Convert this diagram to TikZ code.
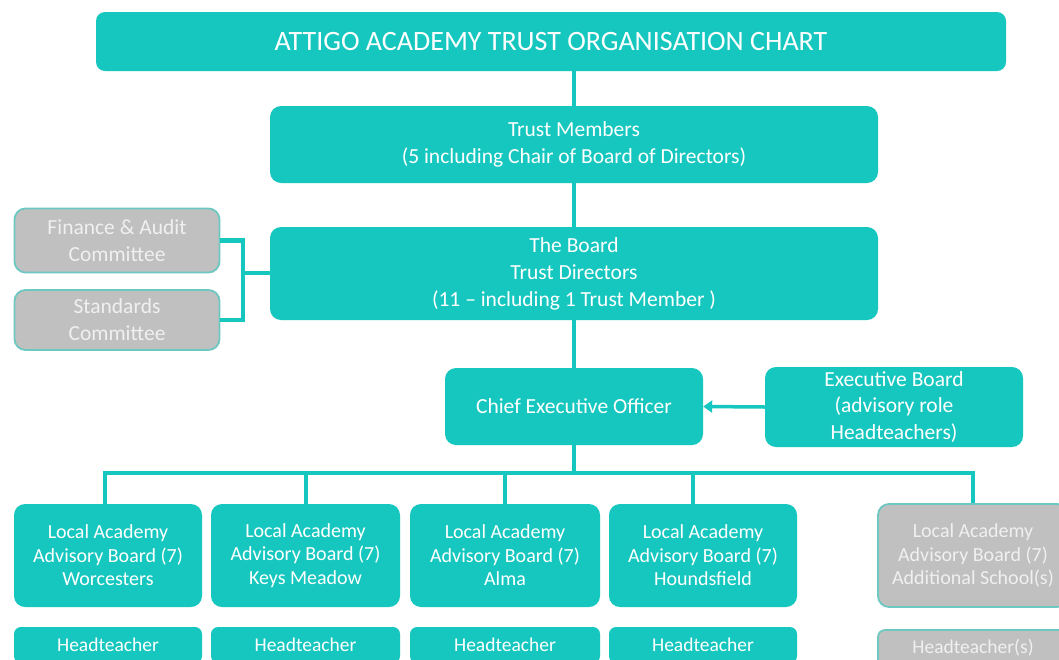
\documentclass[tikz,border=0pt]{standalone}
\usepackage{fontspec}
\setmainfont{Carlito}
\usetikzlibrary{arrows.meta}
\definecolor{teal1}{RGB}{22,199,191}
\definecolor{greybox}{RGB}{192,192,192}
\definecolor{greyedge}{RGB}{110,200,194}
\definecolor{greytext}{RGB}{240,240,240}
\begin{document}
\begin{tikzpicture}[x=1pt,y=-1pt,
  tbox/.style={draw=none,fill=teal1,rounded corners=11pt,text=white,align=center,inner sep=0pt},
  gbox/.style={draw=greyedge,line width=1.8pt,fill=greybox,rounded corners=11pt,text=greytext,align=center,inner sep=0pt},
  big/.style={font=\fontsize{21.5}{27}\selectfont},
  lab/.style={font=\fontsize{20}{23.5}\selectfont},
  head/.style={font=\fontsize{19.5}{22}\selectfont},
  link/.style={draw=teal1,line width=4.5pt},
]
\useasboundingbox (0,0) rectangle (1059,659);
\clip (0,0) rectangle (1059,659);
\fill[white] (0,0) rectangle (1059,659);

% top of the chart
\node[tbox,minimum width=910pt,minimum height=59pt,rounded corners=9pt,
      font=\fontsize{28}{30}\selectfont] (title) at (551,41.5) {ATTIGO ACADEMY TRUST ORGANISATION CHART};
\node[tbox,big,minimum width=608pt,minimum height=77pt] (members) at (574,144.5)
  {Trust Members\\(5 including Chair of Board of Directors)};
\node[tbox,big,minimum width=608pt,minimum height=93pt] (board) at (574,273.5)
  {The Board\\Trust Directors\\(11 -- including 1 Trust Member )};

% committees
\node[gbox,big,minimum width=205pt,minimum height=64pt] (finance) at (117,240.5)
  {Finance \& Audit\\Committee};
\node[gbox,big,minimum width=205pt,minimum height=60pt] (standards) at (117,320)
  {Standards\\Committee};

% executive level
\node[tbox,big,minimum width=258pt,minimum height=77pt] (ceo) at (574,406.5)
  {Chief Executive Officer};
\node[tbox,big,minimum width=258pt,minimum height=80pt,font=\fontsize{21.5}{26.5}\selectfont] (exec) at (894,407)
  {Executive Board\\(advisory role\\Headteachers)};

% local academy advisory boards
\node[tbox,lab,minimum width=188pt,minimum height=103pt] (wor) at (108,555.5)
  {Local Academy\\Advisory Board (7)\\Worcesters};
\node[tbox,lab,minimum width=189pt,minimum height=103pt] (keys) at (305.5,555.5)
  {Local Academy\\Advisory Board (7)\\Keys Meadow};
\node[tbox,lab,minimum width=190pt,minimum height=103pt] (alma) at (505,555.5)
  {Local Academy\\Advisory Board (7)\\Alma};
\node[tbox,lab,minimum width=188pt,minimum height=103pt] (hound) at (703,555.5)
  {Local Academy\\Advisory Board (7)\\Houndsfield};
\node[gbox,lab,minimum width=190pt,minimum height=103pt] (addl) at (973,555.5)
  {Local Academy\\Advisory Board (7)\\Additional School(s)};

% headteachers
\node[tbox,head,minimum width=188pt,minimum height=36pt,rounded corners=7pt] (hwor) at (108,645) {Headteacher};
\node[tbox,head,minimum width=189pt,minimum height=36pt,rounded corners=7pt] (hkeys) at (305.5,645) {Headteacher};
\node[tbox,head,minimum width=190pt,minimum height=36pt,rounded corners=7pt] (halma) at (505,645) {Headteacher};
\node[tbox,head,minimum width=188pt,minimum height=36pt,rounded corners=7pt] (hhound) at (703,645) {Headteacher};
\node[gbox,head,minimum width=190pt,minimum height=36pt,rounded corners=7pt] (haddl) at (973,648) {Headteacher(s)};

% connectors down the spine
\draw[link] (members.north |- title.south) -- (members.north);
\draw[link] (members.south) -- (board.north);
\draw[link] (board.south) -- (ceo.north);

% committee bracket
\coordinate (brk) at (243,273);
\draw[link] (finance.east) -| (brk |- standards.east) -- (standards.east);
\draw[link] (brk) -- (board.west |- brk);

% executive board advises the CEO
\draw[draw=teal1,line width=3.5pt,-{Triangle[length=9pt,width=12pt]}] (exec.west) -- (ceo.east);

% bus to the local boards
\coordinate (bus) at (574,473);
\coordinate (d1) at (105,473);
\coordinate (d2) at (306,473);
\coordinate (d3) at (505,473);
\coordinate (d4) at (693,473);
\coordinate (d5) at (973,473);
\draw[link] (ceo.south) -- (bus);
\draw[link,line cap=rect] (d1) -- (d5);
\draw[link] (d1) -- (d1 |- wor.north);
\draw[link] (d2) -- (d2 |- keys.north);
\draw[link] (d3) -- (d3 |- alma.north);
\draw[link] (d4) -- (d4 |- hound.north);
\draw[link] (d5) -- (d5 |- addl.north);
\end{tikzpicture}
\end{document}
